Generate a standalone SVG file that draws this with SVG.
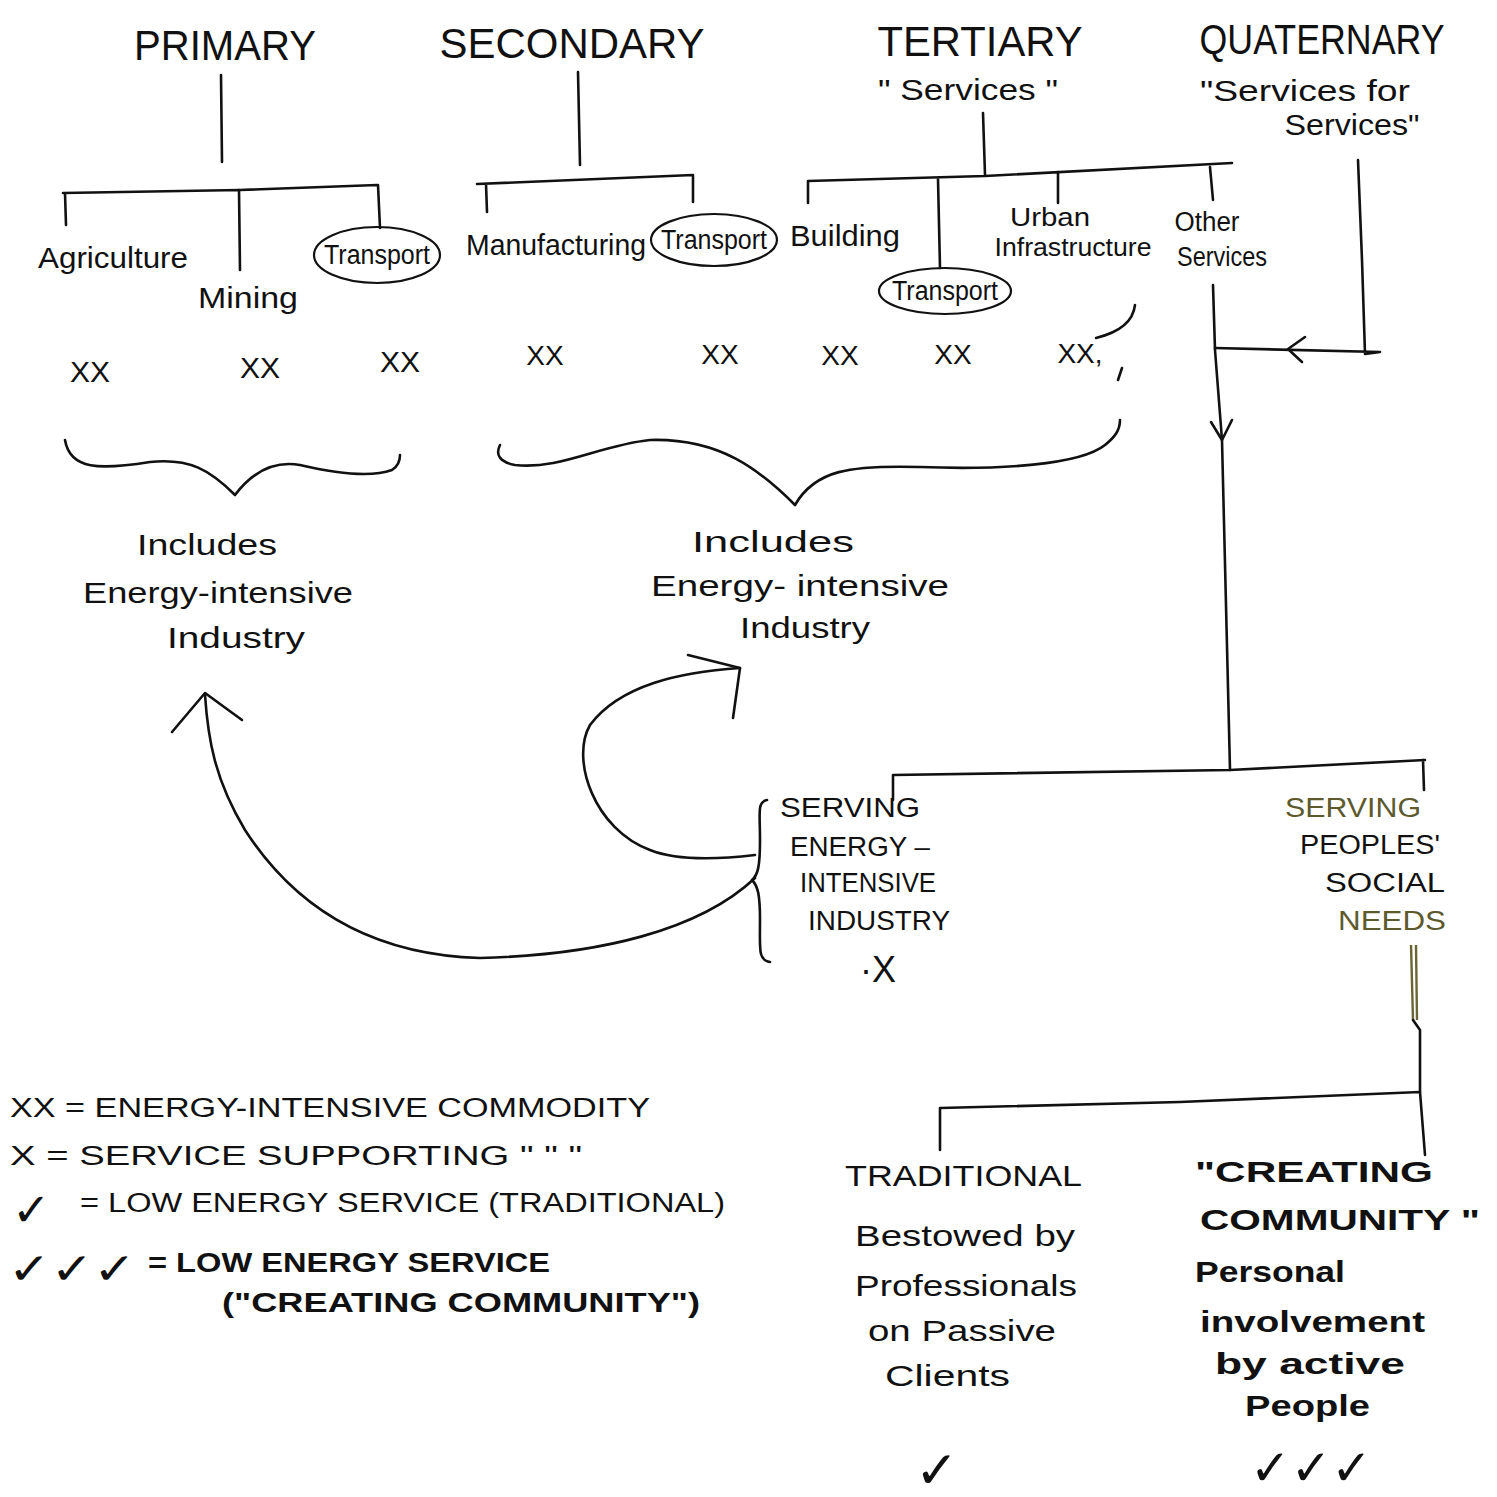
<svg xmlns="http://www.w3.org/2000/svg" width="1497" height="1497" viewBox="0 0 1497 1497">
<style>
text{font-family:"Liberation Sans","DejaVu Sans",sans-serif;fill:#111}
.h{font-size:42px}
.s{font-size:30px}
.m{font-size:27px}
.c{font-size:27px}
.b{font-weight:bold}
.ln{fill:none;stroke:#111;stroke-width:2.6;stroke-linecap:round;stroke-linejoin:round}
.el{fill:none;stroke:#111;stroke-width:2.2}
</style>
<rect width="1497" height="1497" fill="#fff"/>

<g id="primary"><text class="h" x="225" y="60" text-anchor="middle" textLength="182" lengthAdjust="spacingAndGlyphs">PRIMARY</text></g>
<g id="secondary"><text class="h" x="572" y="58" text-anchor="middle" textLength="265" lengthAdjust="spacingAndGlyphs">SECONDARY</text></g>
<g id="tertiary"><text class="h" x="980" y="56" text-anchor="middle" textLength="205" lengthAdjust="spacingAndGlyphs">TERTIARY</text>
<text class="s" x="968" y="100" text-anchor="middle" textLength="180" lengthAdjust="spacingAndGlyphs">" Services "</text></g>
<g id="quaternary"><text class="h" x="1322" y="54" text-anchor="middle" textLength="245" lengthAdjust="spacingAndGlyphs">QUATERNARY</text>
<text class="s" x="1305" y="101" text-anchor="middle" textLength="210" lengthAdjust="spacingAndGlyphs">"Services for</text>
<text class="s" x="1352" y="135" text-anchor="middle" textLength="135" lengthAdjust="spacingAndGlyphs">Services"</text></g>

<g id="agriculture"><text class="s" x="38" y="268" textLength="150" lengthAdjust="spacingAndGlyphs">Agriculture</text></g>
<g id="mining"><text class="s" x="198" y="308" textLength="100" lengthAdjust="spacingAndGlyphs">Mining</text></g>
<g id="transport1"><ellipse class="el" cx="377" cy="255" rx="63" ry="28"/><text class="m" x="377" y="264" text-anchor="middle" textLength="106" lengthAdjust="spacingAndGlyphs">Transport</text></g>
<g id="manufacturing"><text class="s" x="466" y="255" textLength="180" lengthAdjust="spacingAndGlyphs">Manufacturing</text></g>
<g id="transport2"><ellipse class="el" cx="714" cy="240" rx="63" ry="26"/><text class="m" x="714" y="249" text-anchor="middle" textLength="106" lengthAdjust="spacingAndGlyphs">Transport</text></g>
<g id="building"><text class="s" x="790" y="246" textLength="110" lengthAdjust="spacingAndGlyphs">Building</text></g>
<g id="transport3"><ellipse class="el" cx="945" cy="291" rx="66" ry="23"/><text class="m" x="945" y="300" text-anchor="middle" textLength="106" lengthAdjust="spacingAndGlyphs">Transport</text></g>
<g id="urban"><text x="1050" y="226" font-size="26" text-anchor="middle" textLength="80" lengthAdjust="spacingAndGlyphs">Urban</text>
<text x="1073" y="256" font-size="26" text-anchor="middle" textLength="157" lengthAdjust="spacingAndGlyphs">Infrastructure</text></g>
<g id="other"><text x="1207" y="231" font-size="27" text-anchor="middle" textLength="65" lengthAdjust="spacingAndGlyphs">Other</text>
<text x="1222" y="266" font-size="27" text-anchor="middle" textLength="90" lengthAdjust="spacingAndGlyphs">Services</text></g>

<g id="xx-row">
<text x="90" y="382" text-anchor="middle" font-size="30">XX</text>
<text x="260" y="378" text-anchor="middle" font-size="30">XX</text>
<text x="400" y="372" text-anchor="middle" font-size="30">XX</text>
<text x="545" y="365" text-anchor="middle" font-size="28">XX</text>
<text x="720" y="364" text-anchor="middle" font-size="28">XX</text>
<text x="840" y="365" text-anchor="middle" font-size="28">XX</text>
<text x="953" y="364" text-anchor="middle" font-size="28">XX</text>
<text x="1080" y="363" text-anchor="middle" font-size="28">XX,</text>
</g>

<g id="includes1"><text class="s" x="207" y="555" text-anchor="middle" textLength="140" lengthAdjust="spacingAndGlyphs">Includes</text>
<text class="s" x="218" y="603" text-anchor="middle" textLength="270" lengthAdjust="spacingAndGlyphs">Energy-intensive</text>
<text class="s" x="236" y="648" text-anchor="middle" textLength="138" lengthAdjust="spacingAndGlyphs">Industry</text></g>
<g id="includes2"><text class="s" x="773" y="552" text-anchor="middle" textLength="162" lengthAdjust="spacingAndGlyphs">Includes</text>
<text class="s" x="800" y="596" text-anchor="middle" textLength="298" lengthAdjust="spacingAndGlyphs">Energy- intensive</text>
<text class="s" x="805" y="638" text-anchor="middle" textLength="130" lengthAdjust="spacingAndGlyphs">Industry</text></g>

<g id="serving-energy"><path class="ln" d="M767,800 C757,802 760,812 760,840 C760,866 758,875 752,880 C758,886 760,895 760,920 C760,950 758,960 770,962"/>
<text class="c" x="780" y="817" textLength="140" lengthAdjust="spacingAndGlyphs">SERVING</text>
<text class="c" x="790" y="856" textLength="140" lengthAdjust="spacingAndGlyphs">ENERGY –</text>
<text class="c" x="800" y="892" textLength="136" lengthAdjust="spacingAndGlyphs">INTENSIVE</text>
<text class="c" x="808" y="930" textLength="142" lengthAdjust="spacingAndGlyphs">INDUSTRY</text>
<text x="860" y="982" font-size="36">·X</text></g>
<g id="serving-people"><text class="c" x="1285" y="817" textLength="136" lengthAdjust="spacingAndGlyphs"><tspan fill="#5d5a2e">SERVING</tspan></text>
<text class="c" x="1300" y="854" textLength="140" lengthAdjust="spacingAndGlyphs">PEOPLES'</text>
<text class="c" x="1325" y="892" textLength="120" lengthAdjust="spacingAndGlyphs">SOCIAL</text>
<text class="c" x="1338" y="930" textLength="108" lengthAdjust="spacingAndGlyphs"><tspan fill="#5d5a2e">NEEDS</tspan></text></g>

<g id="traditional"><text class="s" x="845" y="1186" textLength="237" lengthAdjust="spacingAndGlyphs">TRADITIONAL</text>
<text class="s" x="855" y="1246" textLength="220" lengthAdjust="spacingAndGlyphs">Bestowed by</text>
<text class="s" x="855" y="1296" textLength="222" lengthAdjust="spacingAndGlyphs">Professionals</text>
<text class="s" x="868" y="1341" textLength="188" lengthAdjust="spacingAndGlyphs">on Passive</text>
<text class="s" x="885" y="1386" textLength="125" lengthAdjust="spacingAndGlyphs">Clients</text>
<text x="915" y="1488" font-size="52" font-family="DejaVu Sans">✓</text></g>
<g id="creating"><text class="s b" x="1195" y="1182" textLength="238" lengthAdjust="spacingAndGlyphs">"CREATING</text>
<text class="s b" x="1200" y="1230" textLength="280" lengthAdjust="spacingAndGlyphs">COMMUNITY "</text>
<text class="s b" x="1195" y="1282" textLength="150" lengthAdjust="spacingAndGlyphs">Personal</text>
<text class="s b" x="1200" y="1332" textLength="225" lengthAdjust="spacingAndGlyphs">involvement</text>
<text class="s b" x="1215" y="1374" textLength="190" lengthAdjust="spacingAndGlyphs">by active</text>
<text class="s b" x="1245" y="1416" textLength="125" lengthAdjust="spacingAndGlyphs">People</text>
<text x="1250" y="1485" font-size="50" font-family="DejaVu Sans" textLength="122" lengthAdjust="spacingAndGlyphs">✓✓✓</text></g>

<g id="legend">
<text class="c" x="10" y="1117" textLength="640" lengthAdjust="spacingAndGlyphs">XX = ENERGY-INTENSIVE  COMMODITY</text>
<text class="c" x="10" y="1165" textLength="572" lengthAdjust="spacingAndGlyphs">X = SERVICE SUPPORTING  "   "     "</text>
<text x="12" y="1226" font-size="46" font-family="DejaVu Sans">✓</text>
<text class="c" x="80" y="1212" textLength="645" lengthAdjust="spacingAndGlyphs">=  LOW ENERGY SERVICE (TRADITIONAL)</text>
<text x="8" y="1284" font-size="44" font-family="DejaVu Sans" textLength="128" lengthAdjust="spacingAndGlyphs">✓✓✓</text>
<text class="c b" x="148" y="1272" textLength="402" lengthAdjust="spacingAndGlyphs">= LOW ENERGY SERVICE</text>
<text class="c b" x="222" y="1312" textLength="478" lengthAdjust="spacingAndGlyphs">("CREATING COMMUNITY")</text>
</g>

<g id="connectors">
<path class="ln" d="M221,75 L222,162"/>
<path class="ln" d="M63,193 L240,190 L377,185 M65,193 L66,225 M239,190 L240,270 M378,185 L380,228"/>
<path class="ln" d="M578,72 L580,165"/>
<path class="ln" d="M477,184 L693,175 M486,184 L487,212 M693,176 L693,202"/>
<path class="ln" d="M983,113 L985,175"/>
<path class="ln" d="M808,181 L985,176 L1232,163 M808,181 L808,203 M938,179 L940,268 M1058,172 L1058,203 M1210,167 L1213,200"/>
<path class="ln" d="M1135,305 C1133,322 1120,332 1096,338"/>
<path class="ln" d="M1122,368 L1118,380"/>
<path class="ln" d="M1213,285 L1215,350 L1222,440 L1230,770"/>
<path class="ln" d="M1211,422 L1222,440 L1232,420"/>
<path class="ln" d="M1358,160 L1362,260 L1365,354 L1380,352 L1215,348"/>
<path class="ln" d="M1305,337 L1288,349 L1302,362"/>
<path class="ln" d="M65,440 C70,470 100,470 150,462 C190,458 210,470 235,495 C250,475 270,460 300,465 C330,472 370,478 392,470 C400,465 400,458 400,455"/>
<path class="ln" d="M500,445 C495,455 500,462 515,465 C560,470 600,445 650,440 C720,438 760,470 795,505 C815,470 850,465 920,467 C1000,470 1080,465 1105,445 C1115,437 1120,430 1120,420"/>
<path class="ln" d="M755,878 C700,930 600,955 480,958 C380,955 300,915 245,830 C215,780 208,740 205,695"/>
<path class="ln" d="M172,732 L205,693 L242,720"/>
<path class="ln" d="M755,855 C730,858 680,862 650,850 C595,830 570,760 590,725 C620,685 680,672 740,668"/>
<path class="ln" d="M688,655 L740,668 L733,718"/>
<path class="ln" d="M893,800 L893,775 L1230,770 L1425,760 M1423,760 L1424,790"/>
<path d="M1411,945 L1413,1020 M1416,945 L1417,1020" fill="none" stroke="#6b6535" stroke-width="2.4"/>
<path class="ln" d="M1413,1020 L1420,1030 L1420,1092"/>
<path class="ln" d="M940,1150 L940,1108 L1180,1102 L1420,1092 L1425,1155"/>
</g>
</svg>
